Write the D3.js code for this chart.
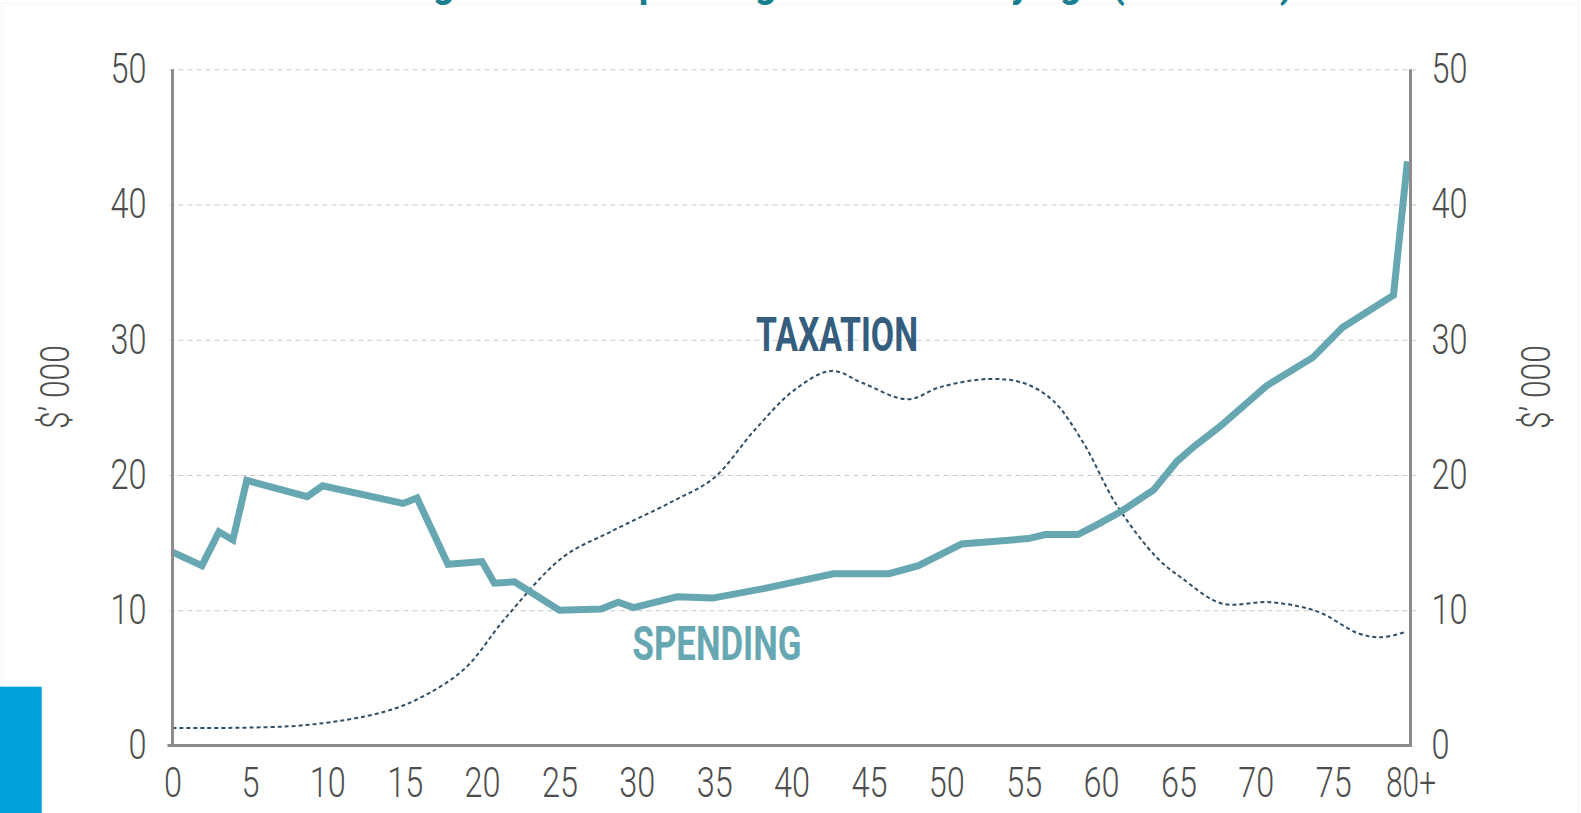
<!DOCTYPE html>
<html>
<head>
<meta charset="utf-8">
<script src="https://cdn.jsdelivr.net/npm/d3@7"></script>
<style>
  html, body { margin: 0; padding: 0; background: #fff; }
  #wrapper svg { display: block; }
</style>
</head>
<body>
<div id="wrapper"></div>
<script>
// ages (x) and $'000 per person (y)
const spendingAges = [0, 1.9, 3, 3.9, 4.8, 8.7, 9.7, 14.9, 15.8, 17.8, 20, 20.8, 22.1, 25, 27.7, 28.8, 29.8, 32.6, 34.9, 38.2, 42.7, 46.3, 48.2, 51, 55.3, 56.4, 58.5, 59.7, 61.3, 63.4, 64.9, 66, 67.7, 70.7, 73.7, 75.6, 78.9, 79.8]
const spendingValues = [14.3, 13.3, 15.8, 15.2, 19.6, 18.4, 19.2, 17.9, 18.3, 13.4, 13.6, 12.0, 12.1, 10.0, 10.1, 10.6, 10.2, 11.0, 10.9, 11.6, 12.7, 12.7, 13.3, 14.9, 15.3, 15.6, 15.6, 16.3, 17.3, 18.9, 21.0, 22.1, 23.6, 26.6, 28.7, 30.9, 33.3, 43.2]

const taxAges = [0, 8.5, 13.7, 16.3, 18.9, 21.5, 25.2, 28.3, 32.4, 35, 37.6, 40.2, 42.6, 44.6, 47.5, 49.6, 52.7, 55, 56.9, 58.9, 61, 63.6, 65.2, 67.8, 70.9, 74, 76.6, 78.1, 79.7]
const taxValues = [1.3, 1.5, 2.5, 3.7, 5.7, 9.4, 13.9, 15.8, 18.1, 19.8, 23.3, 26.3, 27.7, 26.8, 25.6, 26.5, 27.1, 26.8, 25.5, 22.3, 17.8, 13.9, 12.4, 10.5, 10.6, 9.9, 8.3, 8.0, 8.4]

const xTicks = [0, 5, 10, 15, 20, 25, 30, 35, 40, 45, 50, 55, 60, 65, 70, 75, 80]
const yTicks = [0, 10, 20, 30, 40, 50]

const titleText = "Average tax and spending in Australia by age (2011–12)"
const yTitle = "$’ 000"

function draw() {
  // 1. Dimensions
  let dimensions = {
    width: 1581,
    height: 813,
    margin: { top: 69.3, right: 170.5, bottom: 67.5, left: 172.5 },
  }
  dimensions.boundedWidth = dimensions.width - dimensions.margin.left - dimensions.margin.right
  dimensions.boundedHeight = dimensions.height - dimensions.margin.top - dimensions.margin.bottom

  const font = `Roboto, "DejaVu Sans Condensed", sans-serif`
  const textGrey = "#4d4d4d"
  const axisGrey = "#8c8c8c"
  const spendColor = "#67a7b2"
  const taxColor = "#2f4f68"

  // condensed look: squeeze each label to the width measured on the picture
  const labelWidth = s => s.replace(/[^0-9]/g, "").length * 18 + (s.includes("+") ? 14 : 0)

  // 2. Canvas
  const wrapper = d3.select("#wrapper")
    .append("svg")
    .attr("width", dimensions.width)
    .attr("height", dimensions.height)

  // faint page border
  wrapper.append("rect")
    .attr("x", 1.5).attr("y", 3.5)
    .attr("width", dimensions.width - 4).attr("height", dimensions.height)
    .attr("fill", "none")
    .attr("stroke", "#ececec")
    .attr("stroke-dasharray", "2,2")

  // title, mostly cut off at the top edge (as in the original)
  wrapper.append("text")
    .attr("x", 335)
    .attr("y", -3)
    .attr("textLength", 958)
    .attr("lengthAdjust", "spacingAndGlyphs")
    .style("font-family", font)
    .style("font-weight", "bold")
    .style("font-size", "40px")
    .style("fill", "#17808e")
    .text(titleText)

  // blue tab bottom-left
  wrapper.append("rect")
    .attr("x", 0).attr("y", 686.7)
    .attr("width", 41.7).attr("height", dimensions.height - 686.7)
    .attr("fill", "#00a0dc")

  const bounds = wrapper.append("g")
    .attr("transform", `translate(${dimensions.margin.left}, ${dimensions.margin.top})`)

  // 3. Scales
  const xScale = d3.scaleLinear()
    .domain([0, 80])
    .range([0, dimensions.boundedWidth])

  const yScale = d3.scaleLinear()
    .domain([0, 50])
    .range([dimensions.boundedHeight, 0])

  // 4. Gridlines
  const grid = bounds.append("g")
    .attr("transform", `translate(${dimensions.boundedWidth + 6}, 0)`)
    .call(d3.axisLeft(yScale)
      .tickValues(yTicks.filter(d => d > 0))
      .tickSize(dimensions.boundedWidth + 12)
      .tickFormat(""))
  grid.select(".domain").remove()
  grid.selectAll(".tick line")
    .attr("stroke", "#c9c9c9")
    .attr("stroke-width", 1)
    .attr("stroke-dasharray", "5,4")

  // 5. Data
  const spending = spendingAges.map((a, i) => ({ age: a, value: spendingValues[i] }))
  const taxation = taxAges.map((a, i) => ({ age: a, value: taxValues[i] }))

  const taxLine = d3.line()
    .x(d => xScale(d.age))
    .y(d => yScale(d.value))
    .curve(d3.curveCatmullRom.alpha(0.5))

  bounds.append("path")
    .datum(taxation)
    .attr("d", taxLine)
    .attr("fill", "none")
    .attr("stroke", taxColor)
    .attr("stroke-width", 2)
    .attr("stroke-dasharray", "4,3")

  const spendLine = d3.line()
    .x(d => xScale(d.age))
    .y(d => yScale(d.value))

  bounds.append("path")
    .datum(spending)
    .attr("d", spendLine)
    .attr("fill", "none")
    .attr("stroke", spendColor)
    .attr("stroke-width", 7)
    .attr("stroke-linejoin", "miter")

  // 6. Axes
  const styleLabels = sel => sel.selectAll("text")
    .style("font-family", font)
    .style("font-weight", 300)
    .style("font-size", "42px")
    .style("fill", textGrey)
    .attr("textLength", function() { return labelWidth(this.textContent) })
    .attr("lengthAdjust", "spacingAndGlyphs")

  const yAxisLeft = bounds.append("g")
    .call(d3.axisLeft(yScale).tickValues(yTicks).tickSize(0).tickPadding(26))
    .call(styleLabels)
  yAxisLeft.select(".domain").remove()

  const yAxisRight = bounds.append("g")
    .attr("transform", `translate(${dimensions.boundedWidth}, 0)`)
    .call(d3.axisRight(yScale).tickValues(yTicks).tickSize(0).tickPadding(21))
    .call(styleLabels)
  yAxisRight.select(".domain").remove()

  const xAxis = bounds.append("g")
    .attr("transform", `translate(0, ${dimensions.boundedHeight})`)
    .call(d3.axisBottom(xScale)
      .tickValues(xTicks)
      .tickSize(0)
      .tickPadding(22)
      .tickFormat(d => d === 80 ? "80+" : d))
    .call(styleLabels)
  xAxis.select(".domain").remove()

  // axis frame lines
  const frame = bounds.append("g")
    .attr("stroke", axisGrey)
    .attr("stroke-width", 3)
  frame.append("line")
    .attr("x1", 0).attr("x2", 0)
    .attr("y1", 0).attr("y2", dimensions.boundedHeight)
  frame.append("line")
    .attr("x1", dimensions.boundedWidth).attr("x2", dimensions.boundedWidth)
    .attr("y1", 0).attr("y2", dimensions.boundedHeight)
  frame.append("line")
    .attr("x1", -5).attr("x2", dimensions.boundedWidth + 1.5)
    .attr("y1", dimensions.boundedHeight).attr("y2", dimensions.boundedHeight)

  // axis titles
  const midY = dimensions.margin.top + yScale(26.5)
  ;[55, 1536].forEach(x => {
    wrapper.append("text")
      .attr("transform", `translate(${x}, ${midY}) rotate(-90)`)
      .attr("text-anchor", "middle")
      .attr("dy", "0.35em")
      .attr("textLength", 84)
      .attr("lengthAdjust", "spacingAndGlyphs")
      .style("font-family", font)
      .style("font-weight", 300)
      .style("font-size", "40px")
      .style("fill", textGrey)
      .text(yTitle)
  })

  // 7. Series labels
  bounds.append("text")
    .attr("x", 837 - dimensions.margin.left)
    .attr("y", 351 - dimensions.margin.top)
    .attr("text-anchor", "middle")
    .attr("textLength", 162)
    .attr("lengthAdjust", "spacingAndGlyphs")
    .style("font-family", font)
    .style("font-weight", "bold")
    .style("font-size", "48px")
    .style("fill", "#355d7e")
    .text("TAXATION")

  bounds.append("text")
    .attr("x", 717 - dimensions.margin.left)
    .attr("y", 660 - dimensions.margin.top)
    .attr("text-anchor", "middle")
    .attr("textLength", 169)
    .attr("lengthAdjust", "spacingAndGlyphs")
    .style("font-family", font)
    .style("font-weight", "bold")
    .style("font-size", "48px")
    .style("fill", spendColor)
    .text("SPENDING")
}

draw()
</script>
</body>
</html>
